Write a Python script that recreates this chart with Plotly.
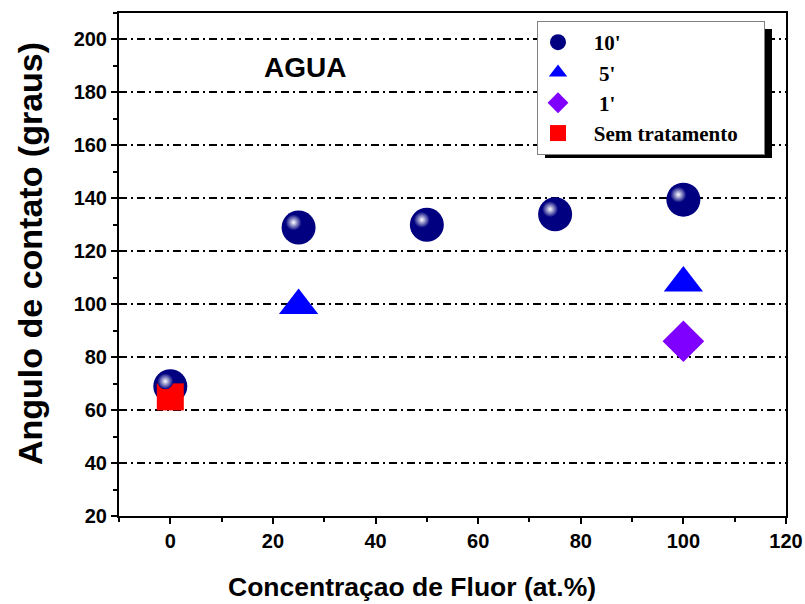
import plotly.graph_objects as go

# Data
x_10 = [0, 25, 50, 75, 100]
y_10 = [69, 129, 130, 134, 139.5]
x_5 = [25, 100]
y_5 = [99.5, 108]
x_1 = [100]
y_1 = [86]
x_sem = [0]
y_sem = [65]

pad = "\u00a0\u00a0\u00a0"
names = [pad + "10'", pad + "\u00a05'", pad + "\u00a01'", pad + "Sem tratamento" + "\u00a0\u00a0\u00a0\u00a0"]
x_title = "Concentraçao de Fluor (at.%)"
y_title = "Angulo de contato (graus)"

W, H = 805, 604
L, R, T, B = 119, 19, 13, 88
pw, ph = W - L - R, H - T - B

fig = go.Figure()

fig.add_trace(go.Scatter(x=x_10, y=y_10, mode="markers", name=names[0],
                         marker=dict(symbol="circle", size=34, color="#000080",
                                     line=dict(width=0))))
fig.add_trace(go.Scatter(x=x_5, y=y_5, mode="markers", name=names[1],
                         marker=dict(symbol="triangle-up", size=34, color="#0000ff",
                                     line=dict(width=0))))
fig.add_trace(go.Scatter(x=x_1, y=y_1, mode="markers", name=names[2],
                         marker=dict(symbol="diamond", size=32, color="#8000ff",
                                     line=dict(width=0))))
fig.add_trace(go.Scatter(x=x_sem, y=y_sem, mode="markers", name=names[3],
                         marker=dict(symbol="square", size=27, color="#ff0000",
                                     line=dict(width=0))))
# highlight of spheres, on overlaid hidden axes shifted a few pixels up-left
fig.add_trace(go.Scatter(x=x_10, y=y_10, mode="markers", showlegend=False,
                         xaxis="x2", yaxis="y2", hoverinfo="skip",
                         marker=dict(symbol="circle", size=16, color="#000080",
                                     gradient=dict(type="radial", color="#ffffff"),
                                     line=dict(width=0))))

font_sans = "Liberation Sans, Arial, sans-serif"
sx = 5 * 130.0 / pw
sy = 5 * 190.0 / ph

fig.update_layout(
    width=W, height=H,
    margin=dict(l=L, r=R, t=T, b=B),
    paper_bgcolor="white", plot_bgcolor="white",
    showlegend=True,
    xaxis=dict(range=[-10, 120], tickvals=[0, 20, 40, 60, 80, 100, 120],
               ticks="outside", ticklen=6, tickwidth=1.5, tickcolor="black",
               minor=dict(dtick=10, ticks="outside", ticklen=4, tickwidth=1.5, tickcolor="black"),
               showline=True, linewidth=2, linecolor="black", mirror=True,
               showgrid=False, zeroline=False, automargin=False,
               tickfont=dict(family=font_sans, size=20, color="black", weight="bold")),
    yaxis=dict(range=[20, 210], tickvals=[20, 40, 60, 80, 100, 120, 140, 160, 180, 200],
               ticks="outside", ticklen=6, tickwidth=1.5, tickcolor="black",
               minor=dict(dtick=10, tick0=0, ticks="outside", ticklen=4, tickwidth=1.5, tickcolor="black"),
               showline=True, linewidth=2, linecolor="black", mirror=True,
               showgrid=True, gridcolor="black", gridwidth=1.5, griddash="8px,4px,2px,4px",
               zeroline=False, automargin=False,
               tickfont=dict(family=font_sans, size=20, color="black", weight="bold")),
    xaxis2=dict(range=[-10 + sx, 120 + sx], visible=False, overlaying="x", anchor="y2"),
    yaxis2=dict(range=[20 - sy, 210 - sy], visible=False, overlaying="y", anchor="x2"),
    legend=dict(x=(537 - L) / pw, y=(516 - 21) / ph, xanchor="left", yanchor="top",
                bgcolor="white", bordercolor="#808080", borderwidth=1,
                font=dict(family="Liberation Serif, Times New Roman, serif", size=21,
                          color="black", weight="bold"),
                itemsizing="trace", tracegroupgap=0),
    shapes=[dict(type="rect", xref="paper", yref="paper", layer="above",
                 x0=(545 - L) / pw, x1=(772 - L) / pw,
                 y0=(516 - 158) / ph, y1=(516 - 29) / ph,
                 fillcolor="black", line=dict(width=0))],
    annotations=[
        dict(text="AGUA", x=(305 - L) / pw, y=(516 - 67) / ph,
             xref="paper", yref="paper", showarrow=False,
             xanchor="center", yanchor="middle",
             font=dict(family=font_sans, size=28, color="black", weight="bold")),
        dict(text=x_title, x=(412 - L) / pw, y=(516 - 587) / ph,
             xref="paper", yref="paper", showarrow=False,
             xanchor="center", yanchor="middle",
             font=dict(family=font_sans, size=26.5, color="black", weight="bold")),
        dict(text=y_title, x=(30 - L) / pw, y=(516 - 254) / ph, textangle=-90,
             xref="paper", yref="paper", showarrow=False,
             xanchor="center", yanchor="middle",
             font=dict(family=font_sans, size=34, color="black", weight="bold")),
    ],
)

fig.write_html("out.html")
